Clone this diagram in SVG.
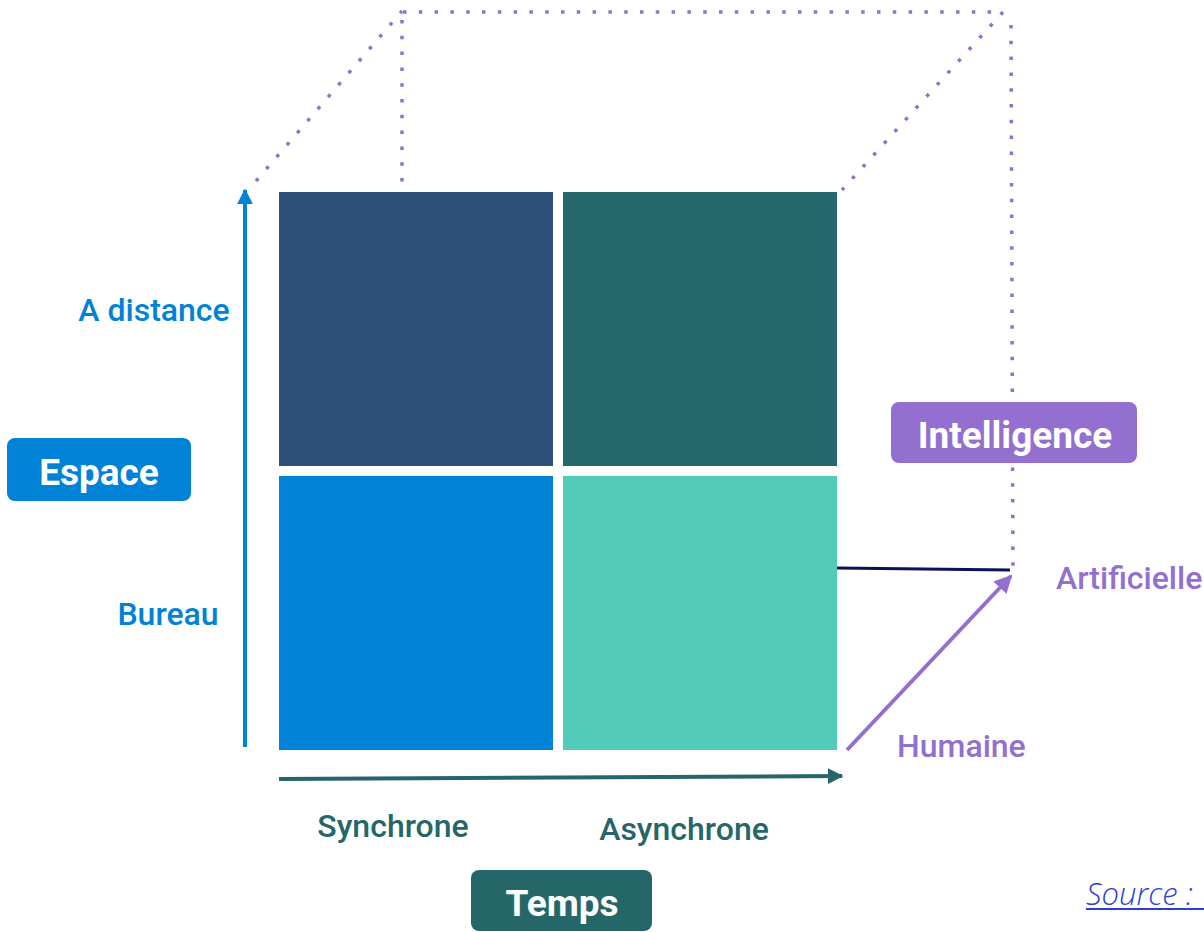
<svg xmlns="http://www.w3.org/2000/svg" width="1204" height="932" viewBox="0 0 1204 932">
<defs>
<style>
.dot{fill:none;stroke:#9370CF;stroke-width:3.5;stroke-dasharray:3.5 12.3}
.lbl{font-family:Roboto,"Liberation Sans",sans-serif;font-weight:500;font-size:32px}
.box{font-family:Roboto,"Liberation Sans",sans-serif;font-weight:700;font-size:37px;fill:#fff;text-anchor:middle}
</style>
<marker id="ab" viewBox="0 0 10 10" refX="9" refY="5" markerWidth="4" markerHeight="4" orient="auto"><path d="M0,0L10,5L0,10z" fill="#0082D6"/></marker>
<marker id="at" viewBox="0 0 10 10" refX="9" refY="5" markerWidth="4" markerHeight="4" orient="auto"><path d="M0,0L10,5L0,10z" fill="#256669"/></marker>
<marker id="ap" viewBox="0 0 10 10" refX="9" refY="5" markerWidth="4.5" markerHeight="4.5" orient="auto"><path d="M0,0L10,5L0,10z" fill="#9370CF"/></marker>
</defs>
<rect width="1204" height="932" fill="#fff"/>
<g id="connectors">
<line class="dot" x1="256" y1="181" x2="402" y2="11"/>
<line class="dot" x1="402" y1="20" x2="402" y2="182"/>
<line class="dot" x1="403" y1="12" x2="1003" y2="12"/>
<line class="dot" x1="1003" y1="12" x2="842" y2="190"/>
<line class="dot" x1="1011" y1="25" x2="1013" y2="575"/>
<line x1="245" y1="747" x2="245" y2="190" stroke="#0082D6" stroke-width="4" marker-end="url(#ab)"/>
<line x1="279" y1="779" x2="842" y2="776" stroke="#256669" stroke-width="4" marker-end="url(#at)"/>
<line x1="847" y1="750" x2="1011" y2="576" stroke="#9370CF" stroke-width="4" marker-end="url(#ap)"/>
<line x1="837" y1="568" x2="1010" y2="570" stroke="#0A1158" stroke-width="3"/>
</g>
<g id="q-tl"><rect x="279" y="192" width="274" height="274" fill="#2E4F7A"/></g>
<g id="q-tr"><rect x="563" y="192" width="274" height="274" fill="#25676A"/></g>
<g id="q-bl"><rect x="279" y="476" width="274" height="274" fill="#0082D6"/></g>
<g id="q-br"><rect x="563" y="476" width="274" height="274" fill="#52CCB9"/></g>
<g id="espace"><rect x="7" y="438" width="184" height="63" rx="8" fill="#0082D6"/><text class="box" x="99" y="485">Espace</text></g>
<g id="intelligence"><rect x="891" y="402" width="246" height="61" rx="8" fill="#9370CF"/><text class="box" x="1015" y="448">Intelligence</text></g>
<g id="temps"><rect x="471" y="870" width="181" height="61" rx="8" fill="#256669"/><text class="box" x="562" y="916">Temps</text></g>
<g id="labels">
<text class="lbl" x="154" y="321" fill="#0082D6" text-anchor="middle">A distance</text>
<text class="lbl" x="168" y="625" fill="#0082D6" text-anchor="middle">Bureau</text>
<text class="lbl" x="393" y="837" fill="#256669" text-anchor="middle">Synchrone</text>
<text class="lbl" x="684" y="840" fill="#256669" text-anchor="middle">Asynchrone</text>
<text class="lbl" x="1056" y="589" fill="#9370CF">Artificielle</text>
<text class="lbl" x="897" y="757" fill="#9370CF">Humaine</text>
<text x="1086" y="905" font-family="'Open Sans','Liberation Sans',sans-serif" font-weight="300" font-style="italic" font-size="31" fill="#2A3EE0">Source : </text>
<line x1="1086" y1="909" x2="1204" y2="909" stroke="#2A3EE0" stroke-width="2"/>
</g>
</svg>
